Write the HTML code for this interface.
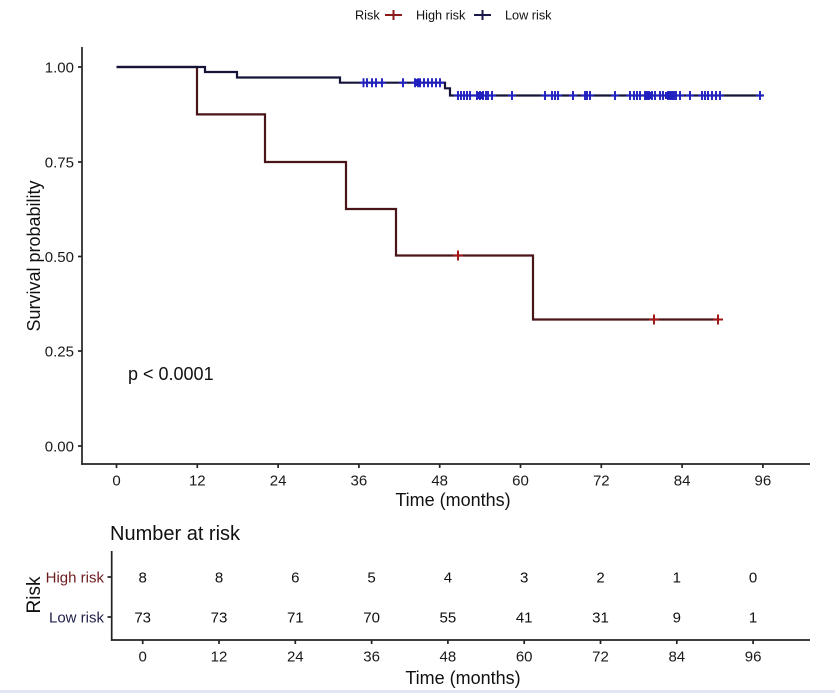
<!DOCTYPE html>
<html><head><meta charset="utf-8"><style>
html,body{margin:0;padding:0;background:#fff;}
svg{display:block;font-family:"Liberation Sans",Arial,sans-serif;}
</style></head><body>
<svg width="835" height="693" viewBox="0 0 835 693" xmlns="http://www.w3.org/2000/svg">
<rect width="835" height="693" fill="#fff"/>
<!-- Legend -->
<g font-size="12.7" fill="#111">
<text x="355" y="19.5">Risk</text>
<line x1="385" y1="15" x2="402" y2="15" stroke="#8b1a1a" stroke-width="2"/>
<line x1="393.5" y1="10" x2="393.5" y2="20" stroke="#8b1a1a" stroke-width="2"/>
<text x="416" y="19.5">High risk</text>
<line x1="474" y1="15" x2="491" y2="15" stroke="#1a1a4a" stroke-width="2"/>
<line x1="482.5" y1="10" x2="482.5" y2="20" stroke="#1a1a4a" stroke-width="2"/>
<text x="505" y="19.5">Low risk</text>
</g>
<!-- Main axes -->
<g stroke="#222" stroke-width="1.7" fill="none">
<line x1="82" y1="47" x2="82" y2="464.8"/>
<line x1="81.2" y1="464" x2="810" y2="464"/>
<line x1="78" y1="67" x2="82" y2="67"/>
<line x1="78" y1="162" x2="82" y2="162"/>
<line x1="78" y1="256.5" x2="82" y2="256.5"/>
<line x1="78" y1="351" x2="82" y2="351"/>
<line x1="78" y1="446" x2="82" y2="446"/>
<line x1="116.5" y1="464" x2="116.5" y2="468"/>
<line x1="197.3" y1="464" x2="197.3" y2="468"/>
<line x1="278.1" y1="464" x2="278.1" y2="468"/>
<line x1="358.9" y1="464" x2="358.9" y2="468"/>
<line x1="439.7" y1="464" x2="439.7" y2="468"/>
<line x1="520.5" y1="464" x2="520.5" y2="468"/>
<line x1="601.3" y1="464" x2="601.3" y2="468"/>
<line x1="682.1" y1="464" x2="682.1" y2="468"/>
<line x1="762.9" y1="464" x2="762.9" y2="468"/>
</g>
<g font-size="15" fill="#1a1a1a" text-anchor="end">
<text x="74" y="72.5">1.00</text>
<text x="74" y="167.5">0.75</text>
<text x="74" y="262">0.50</text>
<text x="74" y="356.5">0.25</text>
<text x="74" y="451.5">0.00</text>
</g>
<g font-size="15" fill="#1a1a1a" text-anchor="middle">
<text x="116.5" y="485.5">0</text>
<text x="197.3" y="485.5">12</text>
<text x="278.1" y="485.5">24</text>
<text x="358.9" y="485.5">36</text>
<text x="439.7" y="485.5">48</text>
<text x="520.5" y="485.5">60</text>
<text x="601.3" y="485.5">72</text>
<text x="682.1" y="485.5">84</text>
<text x="762.9" y="485.5">96</text>
</g>
<text x="453" y="506" font-size="18" fill="#111" text-anchor="middle">Time (months)</text>
<text transform="translate(40,256) rotate(-90)" font-size="18" fill="#111" text-anchor="middle">Survival probability</text>
<text x="128" y="380" font-size="18" fill="#111">p &lt; 0.0001</text>
<!-- High risk curve -->
<path d="M116.5,67 H197 V114.4 H265 V162 H346 V209 H396 V255.5 H533 V319.5 H718" fill="none" stroke="#4a1518" stroke-width="2.2"/>
<g stroke="#a01818" stroke-width="2">
<path d="M453,255.5h10M458,250.5v10"/>
<path d="M649,319.5h10M654,314.5v10"/>
<path d="M713,319.5h10M718,314.5v10"/>
</g>
<!-- Low risk curve -->
<path d="M116.5,67 H205 V72 H237 V77.5 H340 V82.7 H445 V88.3 H450 V95.5 H763" fill="none" stroke="#141438" stroke-width="2.2"/>
<g stroke="#2020c0" stroke-width="1.9" fill="none">
<path d="M359.5,82.7h8M363.5,78.2v9 M363,82.7h8M367,78.2v9 M368,82.7h8M372,78.2v9 M372,82.7h8M376,78.2v9 M378,82.7h8M382,78.2v9"/>
<path d="M399,82.7h8M403,78.2v9"/>
<path d="M411,82.7h8M415,78.2v9 M414,82.7h8M418,78.2v9 M416,82.7h8M420,78.2v9 M420,82.7h8M424,78.2v9 M424,82.7h8M428,78.2v9 M428,82.7h8M432,78.2v9 M432,82.7h8M436,78.2v9 M436,82.7h8M440,78.2v9"/>
<path d="M454,95.5h8M458,91v9 M457,95.5h8M461,91v9 M460,95.5h8M464,91v9 M463,95.5h8M467,91v9 M466,95.5h8M470,91v9"/>
<path d="M473,95.5h8M477,91v9 M476,95.5h8M480,91v9 M479,95.5h8M483,91v9 M482,95.5h8M486,91v9 M484,95.5h8M488,91v9 M488,95.5h8M492,91v9"/>
<path d="M508,95.5h8M512,91v9 M541,95.5h8M545,91v9"/>
<path d="M548,95.5h8M552,91v9 M551,95.5h8M555,91v9 M554,95.5h8M558,91v9 M569,95.5h8M573,91v9"/>
<path d="M581,95.5h8M585,91v9 M583,95.5h8M587,91v9 M586,95.5h8M590,91v9 M611,95.5h8M615,91v9"/>
<path d="M626,95.5h8M630,91v9 M630,95.5h8M634,91v9 M633,95.5h8M637,91v9 M636,95.5h8M640,91v9"/>
<path d="M641,95.5h8M645,91v9 M643,95.5h8M647,91v9 M645,95.5h8M649,91v9 M648,95.5h8M652,91v9 M651,95.5h8M655,91v9 M656,95.5h8M660,91v9 M659,95.5h8M663,91v9"/>
<path d="M664,95.5h8M668,91v9 M666,95.5h8M670,91v9 M668,95.5h8M672,91v9 M670,95.5h8M674,91v9 M672,95.5h8M676,91v9 M676,95.5h8M680,91v9 M686,95.5h8M690,91v9"/>
<path d="M698,95.5h8M702,91v9 M701,95.5h8M705,91v9 M704,95.5h8M708,91v9 M708,95.5h8M712,91v9 M712,95.5h8M716,91v9 M716,95.5h8M720,91v9"/>
<path d="M756,95.5h8M760,91v9"/>
</g>
<rect x="665" y="92" width="9" height="7" fill="#2020c0"/>
<rect x="645" y="92" width="6" height="7" fill="#2020c0"/>
<rect x="478" y="92" width="6" height="7" fill="#2020c0"/>
<rect x="415" y="79" width="6" height="7" fill="#2020c0"/>
<!-- Risk table -->
<text x="110" y="540" font-size="20" fill="#111">Number at risk</text>
<text transform="translate(40,595) rotate(-90)" font-size="19" fill="#111" text-anchor="middle">Risk</text>
<g stroke="#222" stroke-width="1.7">
<line x1="111.7" y1="551" x2="111.7" y2="640.8"/>
<line x1="110.9" y1="640" x2="810" y2="640"/>
<line x1="107.5" y1="577" x2="111.7" y2="577"/>
<line x1="107.5" y1="617" x2="111.7" y2="617"/>
<line x1="142.7" y1="640" x2="142.7" y2="644"/>
<line x1="219" y1="640" x2="219" y2="644"/>
<line x1="295.3" y1="640" x2="295.3" y2="644"/>
<line x1="371.6" y1="640" x2="371.6" y2="644"/>
<line x1="447.9" y1="640" x2="447.9" y2="644"/>
<line x1="524.2" y1="640" x2="524.2" y2="644"/>
<line x1="600.5" y1="640" x2="600.5" y2="644"/>
<line x1="676.8" y1="640" x2="676.8" y2="644"/>
<line x1="753.1" y1="640" x2="753.1" y2="644"/>
</g>
<g font-size="15" text-anchor="end">
<text x="104" y="582.5" fill="#6a1a1e">High risk</text>
<text x="104" y="622.5" fill="#1e1e4a">Low risk</text>
</g>
<g font-size="15" fill="#111" text-anchor="middle">
<text x="142.7" y="582.5">8</text><text x="219" y="582.5">8</text><text x="295.3" y="582.5">6</text><text x="371.6" y="582.5">5</text><text x="447.9" y="582.5">4</text><text x="524.2" y="582.5">3</text><text x="600.5" y="582.5">2</text><text x="676.8" y="582.5">1</text><text x="753.1" y="582.5">0</text>
<text x="142.7" y="622.5">73</text><text x="219" y="622.5">73</text><text x="295.3" y="622.5">71</text><text x="371.6" y="622.5">70</text><text x="447.9" y="622.5">55</text><text x="524.2" y="622.5">41</text><text x="600.5" y="622.5">31</text><text x="676.8" y="622.5">9</text><text x="753.1" y="622.5">1</text>
</g>
<g font-size="15" fill="#1a1a1a" text-anchor="middle">
<text x="142.7" y="661.5">0</text><text x="219" y="661.5">12</text><text x="295.3" y="661.5">24</text><text x="371.6" y="661.5">36</text><text x="447.9" y="661.5">48</text><text x="524.2" y="661.5">60</text><text x="600.5" y="661.5">72</text><text x="676.8" y="661.5">84</text><text x="753.1" y="661.5">96</text>
</g>
<text x="463" y="684" font-size="18" fill="#111" text-anchor="middle">Time (months)</text>
<rect x="0" y="690" width="835" height="3" fill="#e4e6f6"/>
</svg>
</body></html>
